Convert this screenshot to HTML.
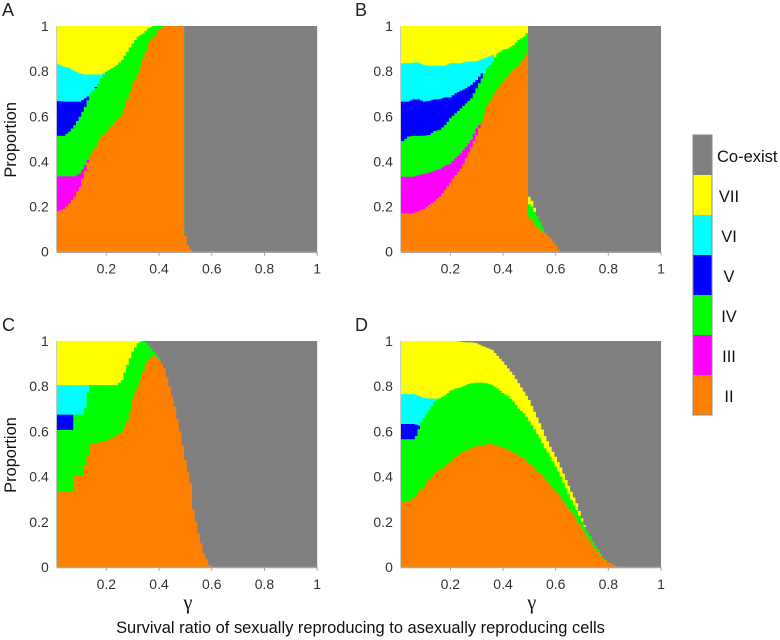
<!DOCTYPE html>
<html lang="en">
<head>
<meta charset="utf-8">
<title>Proportion regions by survival ratio</title>
<style>
html,body{margin:0;padding:0;background:#fff}
svg{display:block;font-family:"Liberation Sans",sans-serif}
</style>
</head>
<body>
<svg id="chart" xmlns="http://www.w3.org/2000/svg" width="780" height="640" viewBox="0 0 780 640"></svg>
<script>
const xTickLabels = [0.2, 0.4, 0.6, 0.8, 1];
const yTickLabels = [0, 0.2, 0.4, 0.6, 0.8, 1];
const legendLabels = ["Co-exist", "VII", "VI", "V", "IV", "III", "II"];

const gammaA = [.012,.02,.04,.06,.08,.10,.12,.14,.16,.18,.20,.22,.24,.26,.28,.30,.32,.34,.36,.38,.40,.42,.49,.491,.50,.51,.52,.525];
const iiA = [.177,.18,.19,.214,.244,.288,.36,.43,.465,.51,.53,.56,.583,.61,.672,.74,.79,.857,.923,.953,.985,1,1,.103,.07,.03,.01,0];
const iiiA = [.334,.334,.334,.334,.334,.347,.384,.43];
const ivA = [.513,.513,.513,.532,.56,.598,.642,.70,.725,.768,.798,.812,.827,.85,.886,.923,.953,.967,.99,1,1,1,1];
const vA = [.667,.667,.665,.665,.665,.665,.68,.695,.73];
const viA = [.838,.83,.82,.815,.80,.79,.785,.785,.785,.785,.798];
const viiA = [1,1,1,1,1,1,1,1,1,1,1,1,1,1,1,1,1,1,1,1,1,1,1];

const gammaB = [.012,.02,.04,.06,.08,.10,.12,.14,.16,.18,.20,.22,.24,.26,.28,.30,.32,.34,.36,.38,.40,.42,.44,.46,.48,.495,.496,.51,.52,.53,.54,.55,.56,.58,.60,.615,.62];
const iiB = [.17,.17,.17,.17,.18,.188,.207,.225,.244,.273,.306,.34,.369,.414,.465,.517,.576,.65,.687,.724,.753,.783,.805,.827,.857,.886,.152,.14,.123,.11,.096,.09,.084,.059,.03,.004,0];
const iiiB = [.332,.332,.332,.332,.34,.344,.35,.359,.365,.38,.391,.414,.436,.465,.495,.547,.576];
const ivB = [.492,.49,.51,.513,.513,.514,.517,.535,.539,.561,.591,.613,.635,.657,.68,.724,.768,.812,.842,.879,.894,.90,.916,.938,.953,.975,.214,.2,.177,.158,.133,.108,.084];
const vB = [.665,.665,.665,.675,.675,.665,.668,.675,.676,.684,.684,.702,.713,.724,.739,.761,.79];
const viB = [.835,.835,.835,.838,.838,.827,.824,.824,.824,.824,.835,.835,.835,.842,.842,.845,.852,.861,.872];
const viiB = [1,1,1,1,1,1,1,1,1,1,1,1,1,1,1,1,1,1,1,1,1,1,1,1,1,1,.251,.225,.195,.158];

const gammaC = [.012,.074,.075,.115,.116,.125,.135,.14,.16,.18,.20,.22,.24,.26,.28,.30,.32,.335,.35,.36,.38,.40,.41,.42,.44,.46,.48,.50,.52,.53,.55,.57,.59,.60];
const iiC = [.333,.333,.404,.404,.45,.45,.54,.544,.547,.555,.559,.569,.58,.6,.643,.739,.805,.85,.90,.916,.938,.916,.90,.879,.798,.709,.6,.473,.37,.252,.149,.06,.01,0];
const iiiC = [];
const ivC = [.606,.606,.674,.674,.674,.74,.805,.805,.805,.805,.805,.805,.805,.827,.894,.953,.99,1,.995,.982,.953,.923];
const vC = [.674,.674];
const viC = [.805,.805,.805,.805,.805,.805,.805];
const viiC = [1,1,1,1,1,1,1,1,1,1,1,1,1,1,1,1,1,1];

const gammaD = [.012,.04,.05,.06,.07,.08,.085,.09,.10,.12,.14,.16,.165,.18,.20,.22,.24,.26,.28,.30,.32,.34,.36,.38,.40,.42,.44,.46,.48,.50,.52,.54,.56,.58,.60,.62,.64,.66,.68,.70,.72,.74,.76,.78,.80,.82,.835];
const iiD = [.292,.292,.298,.304,.318,.333,.338,.345,.355,.385,.414,.429,.432,.444,.466,.488,.506,.515,.525,.535,.538,.543,.544,.535,.53,.518,.506,.494,.481,.459,.437,.414,.392,.363,.333,.311,.274,.245,.208,.171,.134,.097,.068,.038,.02,.009,0];
const iiiD = [];
const ivD = [.565,.565,.565,.565,.58,.61,.62,.64,.66,.695,.73,.746,.75,.76,.78,.79,.795,.806,.813,.816,.816,.813,.805,.79,.77,.757,.732,.70,.68,.645,.609,.569,.525,.488,.444,.40,.348,.296,.252,.20,.156,.115,.08,.04,.02,.009,0];
const vD = [.633,.633,.633,.633,.63,.626,.625];
const viD = [.765,.765,.765,.765,.762,.757,.755,.753,.75,.745,.745,.746,.75];
const viiD = [1,1,1,1,1,1,1,1,1,1,1,1,1,1,1,1,.997,.994,.994,.99,.979,.97,.96,.934,.909,.879,.85,.813,.776,.739,.687,.636,.58,.532,.488,.44,.385,.333,.282,.215,.156,.115,.08,.04,.02,.009,0];

const colorGray = "#808080";
const colorVII = "#ffff00";
const colorVI = "#00ffff";
const colorV = "#0000ff";
const colorIV = "#00ff00";
const colorIII = "#ff00ff";
const colorII = "#ff8000";

const svg = document.getElementById("chart");
const NS = "http://www.w3.org/2000/svg";

function make(tag, attrs, text) {
  const el = document.createElementNS(NS, tag);
  for (const k in attrs) el.setAttribute(k, attrs[k]);
  if (text !== undefined) el.textContent = text;
  svg.appendChild(el);
  return el;
}

function valueAt(gamma, tops, g) {
  for (let i = 1; i < gamma.length; i++) {
    if (g <= gamma[i]) {
      const a = tops[i - 1] || 0, b = tops[i] || 0;
      return a + (b - a) * (g - gamma[i - 1]) / (gamma[i] - gamma[i - 1]);
    }
  }
  return 0;
}

function drawRegion(xScale, yScale, gamma, tops, fill, panelId, regionId) {
  const base = yScale(0);
  const first = gamma[0], last = gamma[gamma.length - 1];
  const pts = [xScale(first).toFixed(2) + "," + base.toFixed(2)];
  let a = first;
  let k = 0;
  while (a < last - 1e-9) {
    const b = Math.min(0.015 + 0.01 * k, last);
    k++;
    if (b <= a) continue;
    const v = valueAt(gamma, tops, (a + b) / 2);
    pts.push(xScale(a).toFixed(2) + "," + yScale(v).toFixed(2));
    pts.push(xScale(b).toFixed(2) + "," + yScale(v).toFixed(2));
    a = b;
  }
  pts.push(xScale(last).toFixed(2) + "," + base.toFixed(2));
  const el = make("polygon", { points: pts.join(" "), fill: fill });
  
  
}

function drawPanel(cfg) {
  const xScale = g => cfg.xZero + cfg.xSpan * g;
  const yScale = v => cfg.yZero - cfg.ySpan * v;
  const left = xScale(0.012), right = xScale(1), top = yScale(1), bottom = yScale(0);

  const bg = make("rect", { x: left, y: top, width: right - left, height: bottom - top, fill: colorGray });
  
  

  drawRegion(xScale, yScale, cfg.gamma, cfg.vii, colorVII, cfg.id, 'vii');
  drawRegion(xScale, yScale, cfg.gamma, cfg.vi, colorVI, cfg.id, 'vi');
  drawRegion(xScale, yScale, cfg.gamma, cfg.v, colorV, cfg.id, 'v');
  drawRegion(xScale, yScale, cfg.gamma, cfg.iv, colorIV, cfg.id, 'iv');
  drawRegion(xScale, yScale, cfg.gamma, cfg.iii, colorIII, cfg.id, 'iii');
  drawRegion(xScale, yScale, cfg.gamma, cfg.ii, colorII, cfg.id, 'ii');

  const xAxis = make("line", { x1: left, x2: right, y1: bottom + 0.5, y2: bottom + 0.5, stroke: "#a6a6a6", "stroke-width": 1.5 });
  
  

  const yAxis = make("line", { x1: left - 0.3, x2: left - 0.3, y1: top, y2: bottom, stroke: "#c4c4c4", "stroke-width": 0.8 });
  
  

  xTickLabels.forEach(t => {
    const mark = make("line", { x1: xScale(t), x2: xScale(t), y1: bottom, y2: bottom + 4, stroke: "#a6a6a6", "stroke-width": 1 });
    
    
    const lab = make("text", { x: xScale(t), y: bottom + 22, "text-anchor": "middle", "font-size": 14, fill: "#333" }, String(t));
    
    
  });

  yTickLabels.forEach(t => {
    const lab = make("text", { x: left - 8, y: yScale(t) + 5, "text-anchor": "end", "font-size": 14, fill: "#333" }, String(t));
    
    
  });

  const letter = make("text", { x: cfg.letterX, y: top - 10, "font-size": 18, fill: "#222" }, cfg.id);
  
  

  if (cfg.showYTitle) {
    const cy = (top + bottom) / 2 + 1;
    const title = make("text", { x: 16, y: cy, "text-anchor": "middle", "font-size": 16.4, fill: "#111", transform: "rotate(-90 16 " + cy + ")" }, "Proportion");
    
    
  }
  if (cfg.showXTitle) {
    const gt = make("text", { x: xScale(0.5) + 2.5, y: bottom + 42, "text-anchor": "middle", "font-size": 20, "font-family": '"Liberation Serif","DejaVu Serif",serif', fill: "#111" }, "γ");
    
    
  }
}

drawPanel({ id: "A", xZero: 53.6, xSpan: 263.6, yZero: 251.7, ySpan: 225.7, letterX: 2, showYTitle: true, showXTitle: false,
  gamma: gammaA, ii: iiA, iii: iiiA, iv: ivA, v: vA, vi: viA, vii: viiA });
drawPanel({ id: "B", xZero: 397.7, xSpan: 263.3, yZero: 251.7, ySpan: 225.7, letterX: 355, showYTitle: false, showXTitle: false,
  gamma: gammaB, ii: iiB, iii: iiiB, iv: ivB, v: vB, vi: viB, vii: viiB });
drawPanel({ id: "C", xZero: 53.6, xSpan: 263.6, yZero: 567, ySpan: 226, letterX: 2, showYTitle: true, showXTitle: true,
  gamma: gammaC, ii: iiC, iii: iiiC, iv: ivC, v: vC, vi: viC, vii: viiC });
drawPanel({ id: "D", xZero: 397.7, xSpan: 263.3, yZero: 567, ySpan: 226, letterX: 355, showYTitle: false, showXTitle: true,
  gamma: gammaD, ii: iiD, iii: iiiD, iv: ivD, v: vD, vi: viD, vii: viiD });

const xTitle = make("text", { x: 360.5, y: 633, "text-anchor": "middle", "font-size": 16.45, fill: "#111" }, "Survival ratio of sexually reproducing to asexually reproducing cells");



const legendColors = [colorGray, colorVII, colorVI, colorV, colorIV, colorIII, colorII];
legendLabels.forEach((label, i) => {
  const y = 135 + i * 40;
  const swatch = make("rect", { x: 693, y: y, width: 19, height: 40, fill: legendColors[i] });
  
  
  const tx = i === 0 ? 717 : 729;
  const text = make("text", { x: tx, y: y + 27, "text-anchor": i === 0 ? "start" : "middle", "font-size": 16.5, fill: "#111" }, label);
  
  
});
const frame = make("rect", { x: 693, y: 135, width: 19, height: 280, fill: "none", stroke: "#8a8a8a", "stroke-width": 1 });


</script>
</body>
</html>
